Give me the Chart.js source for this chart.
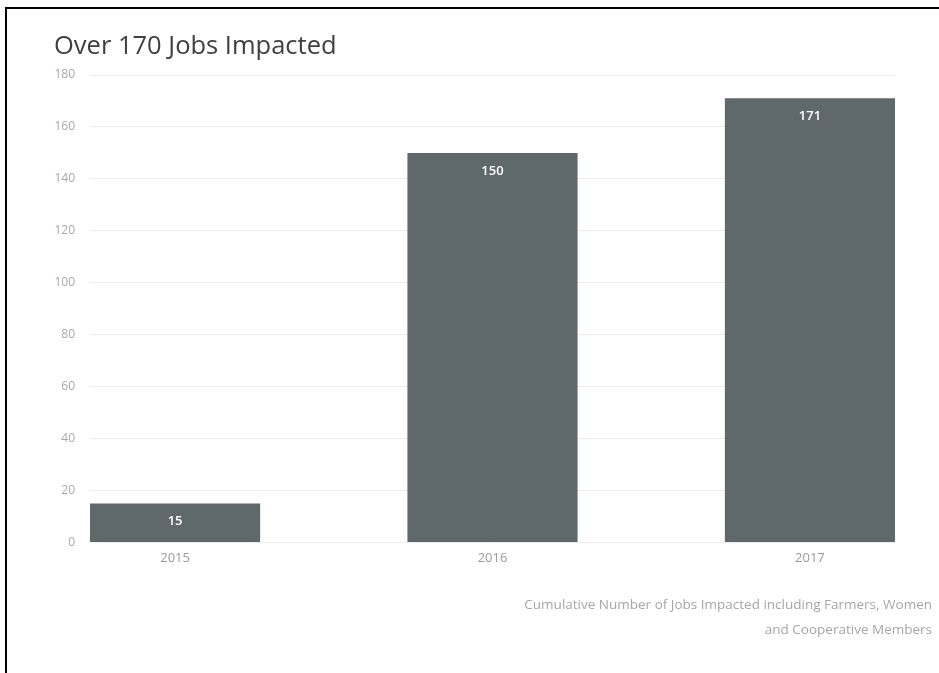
<!DOCTYPE html>
<html>
<head>
<meta charset="utf-8">
<script src="https://cdn.jsdelivr.net/npm/chart.js@4/dist/chart.umd.min.js"></script>
<style>
  html, body { margin: 0; padding: 0; background: #fff; }
  #wrap { position: relative; width: 939px; height: 673px; overflow: hidden; }
  #frame { position: absolute; left: 5px; top: 7px; width: 1000px; height: 1000px;
           border-top: 2px solid #000; border-left: 2px solid #000; pointer-events: none; }
  canvas { position: absolute; left: 0; top: 0; }
</style>
</head>
<body>
<div id="wrap">
  <canvas id="c" width="939" height="673"></canvas>
  <div id="frame"></div>
</div>
<script>
const titleText = "Over 170 Jobs Impacted";
const years = ["2015", "2016", "2017"];
const jobs = [15, 150, 171];
const yTicks = [0, 20, 40, 60, 80, 100, 120, 140, 160, 180];
const footnote = ["Cumulative Number of Jobs Impacted including Farmers, Women", "and Cooperative Members"];

const BAR_FRAC = 0.536;
const FONT = "'Open Sans', 'Noto Sans', sans-serif";

const valueLabels = {
  id: 'valueLabels',
  afterDatasetsDraw(chart) {
    const ctx = chart.ctx;
    const meta = chart.getDatasetMeta(0);
    ctx.save();
    ctx.fillStyle = '#ffffff';
    ctx.font = "600 13px " + FONT;
    ctx.textAlign = 'center';
    ctx.textBaseline = 'middle';
    meta.data.forEach((bar, i) => {
      ctx.fillText(String(jobs[i]), bar.x, bar.y + 18);
    });
    ctx.restore();
  }
};

const textPlugin = {
  id: 'textPlugin',
  afterDraw(chart) {
    const ctx = chart.ctx;
    ctx.save();
    ctx.fillStyle = '#404040';
    ctx.font = "25.5px " + FONT;
    ctx.textAlign = 'left';
    ctx.textBaseline = 'alphabetic';
    ctx.fillText(titleText, 54, 54);
    ctx.fillStyle = '#a6a6a6';
    ctx.font = "13.5px " + FONT;
    ctx.textAlign = 'right';
    ctx.textBaseline = 'middle';
    footnote.forEach((line, i) => {
      ctx.fillText(line, 932, 605 + i * 25);
    });
    ctx.restore();
  }
};

new Chart(document.getElementById('c'), {
  type: 'bar',
  data: {
    datasets: [{
      data: jobs.map((v, i) => ({ x: i, y: v })),
      backgroundColor: '#5f696b',
      borderWidth: 0,
      barPercentage: BAR_FRAC,
      categoryPercentage: 1
    }]
  },
  plugins: [valueLabels, textPlugin],
  options: {
    responsive: false,
    animation: false,
    layout: { padding: { left: 40, right: 44, top: 75, bottom: 107 } },
    plugins: {
      legend: { display: false },
      tooltip: { enabled: false },
      title: { display: false }
    },
    scales: {
      x: {
        type: 'linear',
        min: -BAR_FRAC / 2,
        max: years.length - 1 + BAR_FRAC / 2,
        offset: false,
        afterBuildTicks: (scale) => { scale.ticks = years.map((_, i) => ({ value: i })); },
        ticks: {
          callback: (v) => years[v],
          color: '#9a9a9a',
          font: { family: FONT, size: 13 },
          padding: 0,
          autoSkip: false,
          maxRotation: 0
        },
        grid: { display: false },
        border: { display: false }
      },
      y: {
        min: 0,
        max: 180,
        afterBuildTicks: (scale) => { scale.ticks = yTicks.map(v => ({ value: v })); },
        afterFit: (scale) => { scale.width = 50; },
        ticks: {
          color: '#a8a8a8',
          font: { family: FONT, size: 12 },
          padding: 15
        },
        grid: { color: '#ececec', lineWidth: 1, drawTicks: false },
        border: { display: false }
      }
    }
  }
});
</script>
</body>
</html>
